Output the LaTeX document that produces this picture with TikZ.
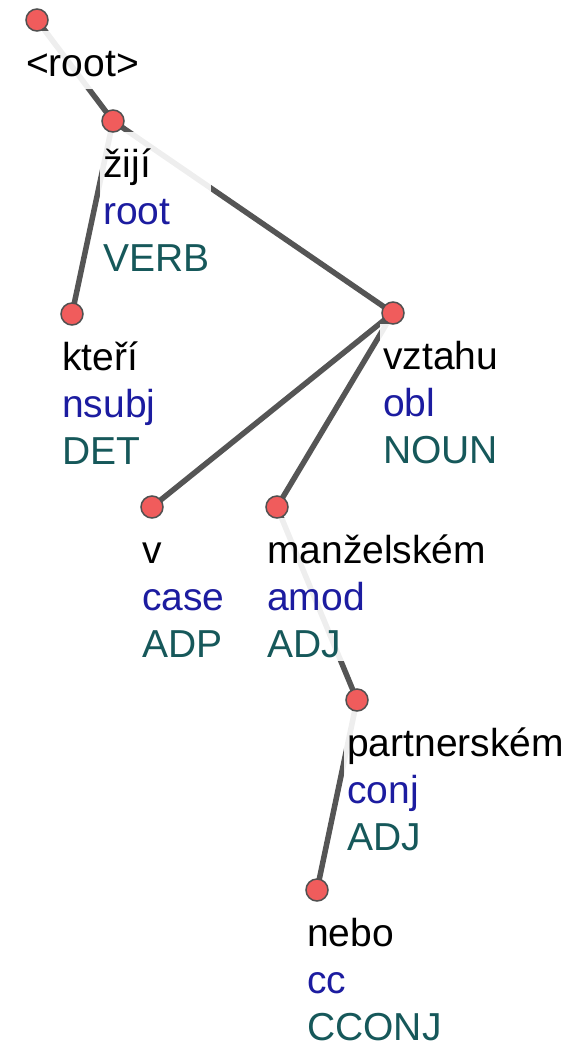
\documentclass[tikz,border=0pt]{standalone}
\usepackage{fontspec}
\setmainfont{Liberation Sans}
\usepackage{tikz}
\usetikzlibrary{calc,fit}

\definecolor{dotred}{RGB}{240,92,92}
\definecolor{rimgray}{RGB}{80,80,80}
\definecolor{edgegray}{RGB}{85,85,85}
\definecolor{relblue}{RGB}{28,28,160}
\definecolor{posteal}{RGB}{22,88,90}

\pgfdeclarelayer{edges}
\pgfdeclarelayer{halos}
\pgfsetlayers{edges,halos,main}

\newcommand{\tokfont}{\fontsize{39}{47}\selectfont}

\tikzset{
  dot/.style={circle, fill=dotred, draw=rimgray, line width=1.5pt, minimum size=22pt, inner sep=0pt},
  dep/.style={draw=edgegray, line width=5.5pt},
  word/.style={anchor=base west, inner sep=0pt, font=\tokfont, text=black},
  rel/.style={word, text=relblue},
  upos/.style={word, text=posteal},
  halo/.style={fill=white, fill opacity=0.9, draw=none, inner sep=1pt}
}

\begin{document}
\begin{tikzpicture}[x=1pt, y=-1pt]
  \useasboundingbox (0,0) rectangle (572,1050);
  % root of the tree
  \node[dot] (root) at (37,20) {};
  \node[word] (root-f) at ($(root)+(-11,56)$) {<root>};
  \coordinate (root-t) at ($(root)+(-13,12)$);
  \coordinate (root-b) at ($(root-f.base west)+(-2,12)$);
  \begin{pgfonlayer}{halos}
    \node[halo, fit={(root-f) (root-t) (root-b)}] (root-h) {};
  \end{pgfonlayer}
  % tokens: name/x/y/form/deprel/upos
  \foreach \n/\x/\y/\f/\r/\p in {
      zij/113/121/žijí/root/VERB,
      ktr/72/314/kteří/nsubj/DET,
      vzt/393/313/vztahu/obl/NOUN,
      v/152/507/v/case/ADP,
      man/277/507/manželském/amod/ADJ,
      par/357/700/partnerském/conj/ADJ,
      neb/317/890/nebo/cc/CCONJ} {
    \node[dot] (\n) at (\x,\y) {};
    \node[word] (\n-f) at ($(\n)+(-10,56)$) {\f};
    \node[rel] (\n-r) at ($(\n)+(-10,103)$) {\r};
    \node[upos] (\n-p) at ($(\n)+(-10,150)$) {\p};
    \coordinate (\n-t) at ($(\n)+(-12,12)$);
    \coordinate (\n-b) at ($(\n-p.base west)+(-2,3)$);
    \begin{pgfonlayer}{halos}
      \node[halo, fit={(\n-f) (\n-r) (\n-p) (\n-t) (\n-b)}] (\n-h) {};
    \end{pgfonlayer}
  }
  % dependency edges
  \begin{pgfonlayer}{edges}
    \foreach \a/\b in {root/zij, zij/ktr, zij/vzt, vzt/v, vzt/man, man/par, par/neb}
      \draw[dep] (\a.center) -- (\b.center);
  \end{pgfonlayer}
\end{tikzpicture}
\end{document}
